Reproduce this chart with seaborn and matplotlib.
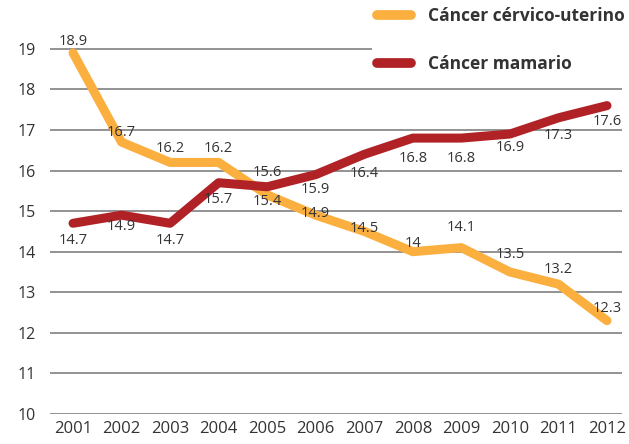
import matplotlib
matplotlib.use("Agg")
import matplotlib.pyplot as plt
import seaborn as sns
import pandas as pd
from matplotlib.lines import Line2D

years = [2001, 2002, 2003, 2004, 2005, 2006, 2007, 2008, 2009, 2010, 2011, 2012]
cervico = [18.9, 16.7, 16.2, 16.2, 15.4, 14.9, 14.5, 14.0, 14.1, 13.5, 13.2, 12.3]
mamario = [14.7, 14.9, 14.7, 15.7, 15.6, 15.9, 16.4, 16.8, 16.8, 16.9, 17.3, 17.6]
series_names = ["Cáncer cérvico-uterino", "Cáncer mamario"]
cervico_labels = ["18.9", "16.7", "16.2", "16.2", "15.4", "14.9", "14.5", "14", "14.1", "13.5", "13.2", "12.3"]
mamario_labels = ["14.7", "14.9", "14.7", "15.7", "15.6", "15.9", "16.4", "16.8", "16.8", "16.9", "17.3", "17.6"]
y_ticks = [10, 11, 12, 13, 14, 15, 16, 17, 18, 19]

# label vertical offsets in pixels (positive = above point)
cervico_dy = [11, 10, 14, 14, -7, 2, 3, 8, 20, 17, 15, 12]
mamario_dy = [-17, -11, -17, -17, 14, -15, -19, -20, -20, -13, -18, -16]

ORANGE = "#FBAF3F"
RED = "#B02226"
TEXT = "#333333"

sns.set_theme(style="white")
plt.rcParams["font.family"] = ["Open Sans", "DejaVu Sans"]

df = pd.DataFrame({
    "year": years * 2,
    "value": cervico + mamario,
    "serie": [series_names[0]] * len(years) + [series_names[1]] * len(years),
})

fig = plt.figure(figsize=(6.29, 4.44), dpi=100)
ax = fig.add_axes([50 / 629, 30 / 444, 572 / 629, 366 / 444])

palette = {series_names[0]: ORANGE, series_names[1]: RED}
sns.lineplot(data=df, x="year", y="value", hue="serie", palette=palette,
             linewidth=6.5, ax=ax, legend=False, sort=False)
for ln, z in zip(ax.get_lines(), [2, 3]):
    ln.set_solid_capstyle("round")
    ln.set_solid_joinstyle("round")
    ln.set_clip_on(False)
    ln.set_zorder(z)

ax.set_xlim(2001 - 23 / 48.5, 2012 + 15 / 48.5)
ax.set_ylim(10, 19.02)
ax.set_yticks(y_ticks)
ax.set_xticks(years)
ax.set_xticklabels([str(y) for y in years])
ax.set_xlabel("")
ax.set_ylabel("")
for s in ax.spines.values():
    s.set_visible(False)
ax.grid(axis="y", color="#8a8a8a", linewidth=1.3)
ax.grid(axis="x", visible=False)
ax.set_axisbelow(True)
ax.tick_params(axis="y", length=0, pad=10, labelsize=11.5, labelcolor=TEXT)
ax.tick_params(axis="x", length=0, pad=5, labelsize=12, labelcolor=TEXT)

px2pt = 0.72
for x, v, lab, dy in zip(years, cervico, cervico_labels, cervico_dy):
    ax.annotate(lab, (x, v), xytext=(0, dy * px2pt), textcoords="offset points",
                ha="center", va="center", fontsize=10.5, color=TEXT, zorder=5,
                annotation_clip=False)
for x, v, lab, dy in zip(years, mamario, mamario_labels, mamario_dy):
    ax.annotate(lab, (x, v), xytext=(0, dy * px2pt), textcoords="offset points",
                ha="center", va="center", fontsize=10.5, color=TEXT, zorder=5,
                annotation_clip=False)

handles = [Line2D([0], [0], color=ORANGE, linewidth=7, solid_capstyle="round"),
           Line2D([0], [0], color=RED, linewidth=7, solid_capstyle="round")]
leg = fig.legend(handles, series_names, loc="upper left",
                 bbox_to_anchor=(372 / 629, 1.0 - 2 / 444), borderaxespad=0,
                 frameon=True, facecolor="white", edgecolor="none", framealpha=1,
                 fancybox=False, borderpad=0.3, handlelength=1.95,
                 handletextpad=0.95, labelspacing=1.7,
                 prop={"size": 12.5, "weight": "bold"})
for t in leg.get_texts():
    t.set_color(TEXT)

fig.savefig("out.png", dpi=100, facecolor="white")
